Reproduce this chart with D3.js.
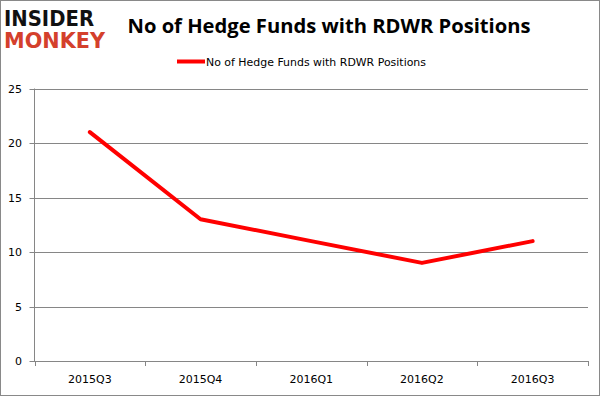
<!DOCTYPE html>
<html>
<head>
<meta charset="utf-8">
<script src="https://cdn.jsdelivr.net/npm/d3@7"></script>
<style>
  body { margin: 0; background: #fff; }
  svg { display: block; }
</style>
</head>
<body>
<script>
// chart data
var quarters = ['2015Q3', '2015Q4', '2016Q1', '2016Q2', '2016Q3'];
var funds = [21, 13, 11, 9, 11];
var yTicks = [0, 5, 10, 15, 20, 25];
var seriesName = 'No of Hedge Funds with RDWR Positions';

var width = 600,
	height = 396;

var margin = { top: 88.5, right: 12, bottom: 35, left: 34.5 };

var svg = d3.select('body')
	.append('svg')
	.attr('width', width)
	.attr('height', height);

// outer border
svg.append('rect')
	.attr('x', 0.5).attr('y', 0.5)
	.attr('width', width - 1).attr('height', height - 1)
	.attr('fill', '#fff')
	.attr('stroke', '#898989');

// logo
svg.append('text')
	.attr('x', 4).attr('y', 26)
	.attr('font-family', 'DejaVu Sans')
	.attr('font-weight', 'bold')
	.attr('font-size', 21)
	.attr('textLength', 90)
	.attr('lengthAdjust', 'spacingAndGlyphs')
	.attr('fill', '#111')
	.text('INSIDER');
svg.append('text')
	.attr('x', 4).attr('y', 48)
	.attr('font-family', 'DejaVu Sans')
	.attr('font-weight', 'bold')
	.attr('font-size', 21)
	.attr('textLength', 101)
	.attr('lengthAdjust', 'spacingAndGlyphs')
	.attr('fill', '#d4402c')
	.text('MONKEY');

// title
svg.append('text')
	.attr('x', 329).attr('y', 33)
	.attr('text-anchor', 'middle')
	.attr('font-family', 'Open Sans, sans-serif')
	.attr('font-weight', 'bold')
	.attr('font-size', 20)
	.attr('textLength', 403)
	.attr('lengthAdjust', 'spacingAndGlyphs')
	.attr('fill', '#000')
	.text('No of Hedge Funds with RDWR Positions');

// scales
var x = d3.scaleBand()
	.domain(quarters)
	.range([margin.left, width - margin.right]);

var y = d3.scaleLinear()
	.domain([0, 25])
	.range([height - margin.bottom, margin.top]);

// gridlines
svg.append('g')
	.selectAll('line')
	.data(yTicks)
	.enter().append('line')
	.attr('x1', margin.left - 5)
	.attr('x2', width - margin.right)
	.attr('y1', function(d) { return Math.round(y(d)) + 0.5; })
	.attr('y2', function(d) { return Math.round(y(d)) + 0.5; })
	.attr('stroke', '#868686')
	.attr('stroke-width', 1);

// y axis line
svg.append('line')
	.attr('x1', margin.left).attr('x2', margin.left)
	.attr('y1', y(25)).attr('y2', y(0))
	.attr('stroke', '#868686');

// y labels
svg.append('g')
	.selectAll('text')
	.data(yTicks)
	.enter().append('text')
	.attr('x', 22)
	.attr('y', function(d) { return y(d) + 4; })
	.attr('text-anchor', 'end')
	.attr('font-family', 'DejaVu Sans, sans-serif')
	.attr('font-size', 11)
	.attr('fill', '#000')
	.text(function(d) { return d; });

// x ticks
var xEdges = quarters.map(function(q) { return x(q); }).concat([x.range()[1]]);
svg.append('g')
	.selectAll('line')
	.data(xEdges)
	.enter().append('line')
	.attr('x1', function(d) { return Math.round(d) + 0.5; })
	.attr('x2', function(d) { return Math.round(d) + 0.5; })
	.attr('y1', y(0))
	.attr('y2', y(0) + 5)
	.attr('stroke', '#868686');

// x labels
svg.append('g')
	.selectAll('text')
	.data(quarters)
	.enter().append('text')
	.attr('x', function(d) { return x(d) + x.bandwidth() / 2; })
	.attr('y', 383)
	.attr('text-anchor', 'middle')
	.attr('font-family', 'DejaVu Sans, sans-serif')
	.attr('font-size', 11)
	.attr('fill', '#000')
	.text(function(d) { return d; });

// line
var line = d3.line()
	.x(function(d, i) { return x(quarters[i]) + x.bandwidth() / 2; })
	.y(function(d) { return y(d); });

svg.append('path')
	.datum(funds)
	.attr('d', line)
	.attr('fill', 'none')
	.attr('stroke', '#ff0000')
	.attr('stroke-width', 4)
	.attr('stroke-linecap', 'round')
	.attr('stroke-linejoin', 'round');

// legend
svg.append('line')
	.attr('x1', 177).attr('x2', 205)
	.attr('y1', 61.5).attr('y2', 61.5)
	.attr('stroke', '#ff0000')
	.attr('stroke-width', 4);
svg.append('text')
	.attr('x', 206).attr('y', 65.5)
	.attr('font-family', 'DejaVu Sans, sans-serif')
	.attr('font-size', 11)
	.attr('textLength', 220)
	.attr('lengthAdjust', 'spacingAndGlyphs')
	.attr('fill', '#000')
	.text(seriesName);
</script>
</body>
</html>
